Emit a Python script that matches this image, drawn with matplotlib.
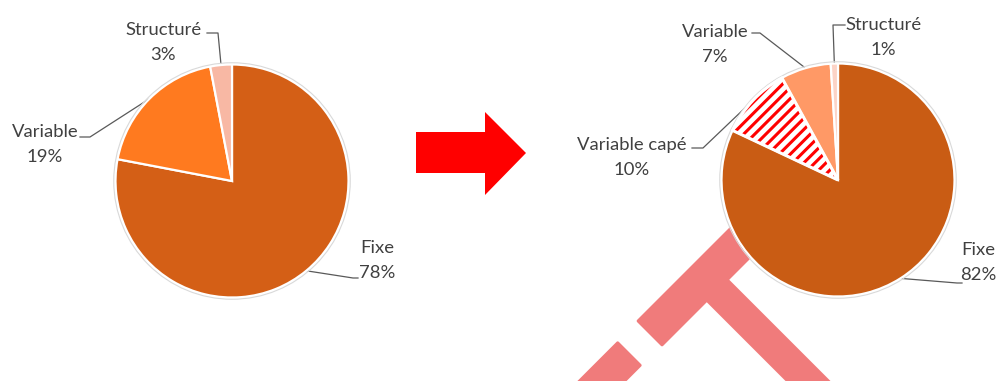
import matplotlib
matplotlib.use("Agg")
import matplotlib.pyplot as plt
from matplotlib.patches import Polygon, Circle, Wedge
import numpy as np

plt.rcParams['font.family'] = ['Lato', 'DejaVu Sans']
plt.rcParams['hatch.linewidth'] = 2.2

# data
labels_before = ["Fixe", "Variable", "Structuré"]
values_before = [78, 19, 3]
colors_before = ["#D45F16", "#FF7A1F", "#F8B8A4"]

labels_after = ["Fixe", "Variable capé", "Variable", "Structuré"]
values_after = [82, 10, 7, 1]
colors_after = ["#C95C14", "white", "#FF9966", "#FCD3C6"]
hatch_after = [None, "///", None, None]

W, H = 997, 381
fig = plt.figure(figsize=(W / 100, H / 100), dpi=100)

# background layer in pixel coordinates (arrow + watermark)
bg = fig.add_axes([0, 0, 1, 1])
bg.set_xlim(0, W)
bg.set_ylim(H, 0)
bg.axis("off")

pink = "#F07B7B"
def bar(p0, d, length, width):
    d = np.array(d, float) / np.hypot(*d)
    n = np.array([-d[1], d[0]])
    p0 = np.array(p0, float)
    p1 = p0 + d * length
    pts = [p0 + n * width / 2, p1 + n * width / 2, p1 - n * width / 2, p0 - n * width / 2]
    bg.add_patch(Polygon(pts, closed=True, fc=pink, ec=pink, lw=2, joinstyle="round", zorder=1))

bar((650, 333), (1, -1), 200, 34)      # top of the T (goes behind pie)
bar((705, 278), (1, 1), 200, 29)       # stem of the T
bar((629, 354), (-1, 1), 120, 32)      # dash

arrow = [(416, 132), (485, 132), (485, 112), (526, 153), (485, 195), (485, 173), (416, 173)]
bg.add_patch(Polygon(arrow, closed=True, fc="#FF0000", ec="none", zorder=2))

text_color = "#404040"
line_color = "#595959"
fs = 13.3


def draw_pie(cx, cy, r, values, colors, hatches, layout):
    ax = fig.add_axes([(cx - r) / W, (H - cy - r) / H, 2 * r / W, 2 * r / H])
    wedges, _ = ax.pie(values, colors=colors, startangle=90, counterclock=False,
                       wedgeprops=dict(edgecolor="white", linewidth=1.6))
    for w, h in zip(wedges, hatches):
        if h:
            # hatch takes the edge colour, so draw the white border again on top
            w.set_hatch(h)
            w.set_edgecolor("#FF0000")
            w.set_linewidth(0)
            ax.add_patch(Wedge(w.center, w.r, w.theta1, w.theta2, fc="none",
                               ec="white", lw=2.2, zorder=w.get_zorder() + 0.1))
    ax.add_patch(Circle((0, 0), 1.015, fill=False, ec="#D9D9D9", lw=0.8))
    ax.set_xlim(-1.03, 1.03)
    ax.set_ylim(-1.03, 1.03)
    ax.axis("off")
    # leader lines and labels drawn in pixel space
    rr = r / 1.03
    for w, (name, val, tx, ty, elbow, end) in zip(wedges, layout):
        mid = np.deg2rad((w.theta1 + w.theta2) / 2)
        anchor = (cx + rr * np.cos(mid), cy - rr * np.sin(mid))
        bg.plot([anchor[0], elbow[0], end[0]], [anchor[1], elbow[1], end[1]],
                color=line_color, lw=0.9, zorder=3)
        bg.text(tx, ty, name, ha="center", va="center", fontsize=fs, color=text_color)
        bg.text(tx, ty + 25, f"{val}%", ha="center", va="center", fontsize=fs, color=text_color)


draw_pie(232, 181, 120, values_before, colors_before, [None] * 3, [
    ("Fixe", values_before[0], 377, 248, (353, 278), (358, 278)),
    ("Variable", values_before[1], 45, 132, (90, 137), (80, 137)),
    ("Structuré", values_before[2], 163, 30, (218, 33), (207, 33)),
])

draw_pie(838, 180, 120, values_after, colors_after, hatch_after, [
    ("Fixe", values_after[0], 978, 250, (957, 283), (962, 283)),
    ("Variable capé", values_after[1], 632, 145, (703, 148), (692, 148)),
    ("Variable", values_after[2], 715, 32, (760, 33), (752, 33)),
    ("Structuré", values_after[3], 883, 25, (833, 25), (845, 25)),
])

fig.savefig("out.png", dpi=100)
